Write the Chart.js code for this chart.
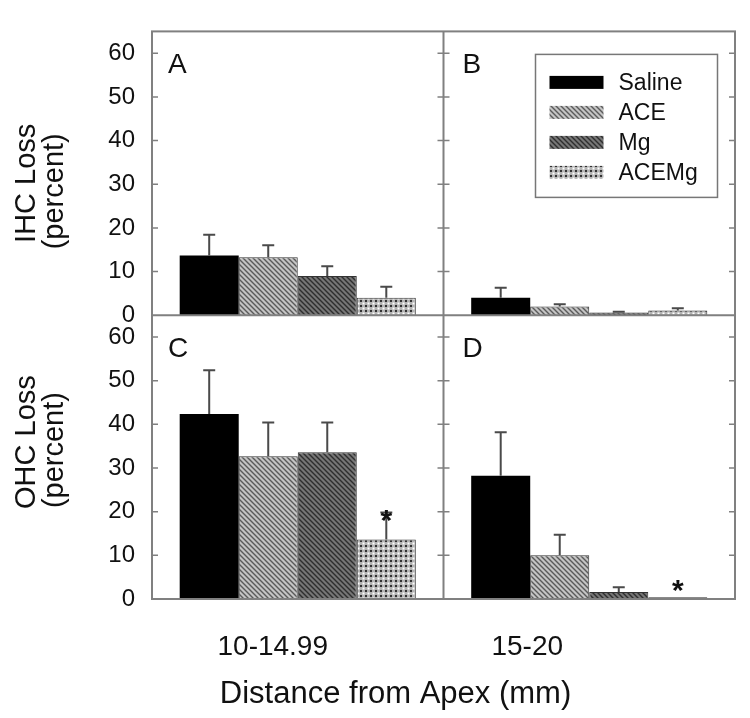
<!DOCTYPE html>
<html>
<head>
<meta charset="utf-8">
<script src="https://cdn.jsdelivr.net/npm/chart.js@4.4.1/dist/chart.umd.min.js"></script>
<style>
  html, body { margin: 0; padding: 0; background: #fff; }
</style>
</head>
<body>
<canvas id="myChart" width="750" height="718"></canvas>
<script>
// distance bins (panels left / right)
const distanceLabels = ['10-14.99', '15-20'];
const treatments = ['Saline', 'ACE', 'Mg', 'ACEMg'];
const yTickLabels = [0, 10, 20, 30, 40, 50, 60];

// IHC loss, percent (panels A and B)
const ihcSaline = [13.7, 4.0];
const ihcAce = [13.3, 2.0];
const ihcMg = [9.0, 0.6];
const ihcAceMg = [4.0, 1.1];
// IHC upward error bars
const ihcSalineErr = [4.7, 2.3];
const ihcAceErr = [2.7, 0.5];
const ihcMgErr = [2.2, 0.2];
const ihcAceMgErr = [2.5, 0.5];

// OHC loss, percent (panels C and D)
const ohcSaline = [42.4, 28.2];
const ohcAce = [32.7, 10.0];
const ohcMg = [33.6, 1.6];
const ohcAceMg = [13.6, 0.4];
// OHC upward error bars
const ohcSalineErr = [10.0, 10.0];
const ohcAceErr = [7.7, 4.7];
const ohcMgErr = [6.8, 1.1];
const ohcAceMgErr = [6.2, 0];
// significance stars
const ohcAceMgStar = [true, true];

const FONT = '"Liberation Sans", Arial, sans-serif';
const INK = '#111';
const FRAME = '#808080';

// fill patterns like the printed figure
function stripes(bg, fg, size) {
  const c = document.createElement('canvas');
  c.width = c.height = size;
  const g = c.getContext('2d');
  g.fillStyle = bg;
  g.fillRect(0, 0, size, size);
  g.strokeStyle = fg;
  g.lineWidth = 1.4;
  g.beginPath();
  g.moveTo(-1, -1); g.lineTo(size + 1, size + 1);
  g.moveTo(-1, size - 1); g.lineTo(1, size + 1);
  g.moveTo(size - 1, -1); g.lineTo(size + 1, 1);
  g.stroke();
  return g.createPattern(c, 'repeat');
}
function dots(bg, dark, light) {
  const c = document.createElement('canvas');
  c.width = c.height = 5;
  const g = c.getContext('2d');
  g.fillStyle = bg;
  g.fillRect(0, 0, 5, 5);
  g.fillStyle = dark;
  g.fillRect(0, 0, 2, 2);
  g.fillStyle = light;
  g.fillRect(2.5, 2.5, 2, 2);
  return g.createPattern(c, 'repeat');
}

const fills = {
  Saline: '#000',
  ACE: stripes('#c4c4c4', '#5a5a5a', 5),
  Mg: stripes('#767676', '#2e2e2e', 5),
  ACEMg: dots('#b4b4b4', '#333', '#fff')
};

const ihcValues = [ihcSaline, ihcAce, ihcMg, ihcAceMg];
const ihcErrors = [ihcSalineErr, ihcAceErr, ihcMgErr, ihcAceMgErr];
const ohcValues = [ohcSaline, ohcAce, ohcMg, ohcAceMg];
const ohcErrors = [ohcSalineErr, ohcAceErr, ohcMgErr, ohcAceMgErr];

const datasets = [];
treatments.forEach((name, i) => {
  const common = {
    stack: name,
    backgroundColor: fills[name],
    borderColor: '#333',
    borderWidth: name === 'Saline' ? 0 : 1,
    barPercentage: 1,
    categoryPercentage: 0.81
  };
  datasets.push(Object.assign({
    label: name, data: ihcValues[i], errorBars: ihcErrors[i], yAxisID: 'yTop'
  }, common));
  datasets.push(Object.assign({
    label: name, data: ohcValues[i], errorBars: ohcErrors[i], yAxisID: 'yBottom',
    stars: name === 'ACEMg' ? ohcAceMgStar : null
  }, common));
});

function yScale(extra) {
  return Object.assign({
    type: 'linear',
    position: 'left',
    stack: 'rows',
    stackWeight: 1,
    min: 0,
    max: 65,
    afterBuildTicks: (s) => { s.ticks = yTickLabels.map(v => ({value: v})); },
    afterFit: (s) => { s.width = 152; },
    ticks: {
      autoSkip: false,
      padding: 17,
      color: INK,
      font: {family: FONT, size: 24}
    },
    grid: {display: false, drawTicks: false},
    border: {display: false}
  }, extra);
}

// error bars and stars
const errorBarPlugin = {
  id: 'errorBars',
  afterDatasetsDraw(chart) {
    const ctx = chart.ctx;
    ctx.save();
    chart.data.datasets.forEach((ds, di) => {
      const meta = chart.getDatasetMeta(di);
      const ys = chart.scales[ds.yAxisID];
      meta.data.forEach((bar, i) => {
        const v = ds.data[i];
        const e = ds.errorBars[i];
        const top = ys.getPixelForValue(v + e);
        if (e > 0) {
          ctx.strokeStyle = '#4a4a4a';
          ctx.lineWidth = 2;
          ctx.beginPath();
          ctx.moveTo(bar.x, ys.getPixelForValue(v));
          ctx.lineTo(bar.x, top);
          ctx.moveTo(bar.x - 6, top);
          ctx.lineTo(bar.x + 6, top);
          ctx.stroke();
        }
        if (ds.stars && ds.stars[i]) {
          ctx.fillStyle = INK;
          ctx.font = 'bold 30px ' + FONT;
          ctx.textAlign = 'center';
          ctx.textBaseline = 'alphabetic';
          ctx.fillText('*', bar.x, top + (e > 0 ? 17 : 3));
        }
      });
    });
    ctx.restore();
  }
};

// frame, panel dividers and inward tick marks
const framePlugin = {
  id: 'frame',
  afterDraw(chart) {
    const {ctx, chartArea: a} = chart;
    const mid = (chart.scales.x.getPixelForValue(0) + chart.scales.x.getPixelForValue(1)) / 2;
    const split = chart.scales.yTop.bottom;
    ctx.save();
    ctx.strokeStyle = FRAME;
    ctx.lineWidth = 2;
    ctx.strokeRect(a.left, a.top, a.right - a.left, a.bottom - a.top);
    ctx.beginPath();
    ctx.moveTo(mid, a.top); ctx.lineTo(mid, a.bottom);
    ctx.moveTo(a.left, split); ctx.lineTo(a.right, split);
    ctx.stroke();
    ctx.lineWidth = 1.5;
    ['yTop', 'yBottom'].forEach(id => {
      const s = chart.scales[id];
      s.ticks.forEach(t => {
        if (t.value === 0) return;
        const y = s.getPixelForValue(t.value);
        ctx.beginPath();
        ctx.moveTo(a.left, y); ctx.lineTo(a.left + 6, y);
        ctx.moveTo(mid - 6, y); ctx.lineTo(mid + 6, y);
        ctx.moveTo(a.right - 6, y); ctx.lineTo(a.right, y);
        ctx.stroke();
      });
    });
    ctx.restore();
  }
};

// panel letters, legend, axis texts
const panelLetters = [['A', 'B'], ['C', 'D']];
const xLabelShift = [-25, -62];
const textPlugin = {
  id: 'texts',
  afterDraw(chart) {
    const {ctx, chartArea: a} = chart;
    const xs = chart.scales.x;
    const mid = (xs.getPixelForValue(0) + xs.getPixelForValue(1)) / 2;
    const rows = [chart.scales.yTop, chart.scales.yBottom];
    ctx.save();
    ctx.fillStyle = INK;
    ctx.textBaseline = 'alphabetic';
    ctx.textAlign = 'left';
    ctx.font = '28px ' + FONT;
    rows.forEach((s, r) => {
      ctx.fillText(panelLetters[r][0], a.left + 16, s.top + 42);
      ctx.fillText(panelLetters[r][1], mid + 19, s.top + 42);
    });

    // legend inside panel B
    const lx = mid + 92, ly = a.top + 23;
    ctx.strokeStyle = '#777';
    ctx.lineWidth = 1.5;
    ctx.strokeRect(lx, ly, 182, 143);
    ctx.font = '23px ' + FONT;
    ctx.textBaseline = 'middle';
    treatments.forEach((name, i) => {
      const cy = ly + 28 + i * 30;
      ctx.fillStyle = fills[name];
      ctx.fillRect(lx + 14, cy - 6.5, 54, 13);
      ctx.fillStyle = INK;
      ctx.fillText(name, lx + 83, cy + 1);
    });

    // x category labels and title
    ctx.textAlign = 'center';
    ctx.textBaseline = 'alphabetic';
    ctx.font = '28px ' + FONT;
    distanceLabels.forEach((lab, i) => {
      ctx.fillText(lab, xs.getPixelForValue(i) + xLabelShift[i], a.bottom + 56);
    });
    ctx.font = '31px ' + FONT;
    ctx.fillText('Distance from Apex (mm)', (a.left + a.right) / 2 - 48, a.bottom + 104);

    // y titles
    const yTitles = [['IHC Loss', '(percent)'], ['OHC Loss', '(percent)']];
    rows.forEach((s, r) => {
      const cy = (s.top + s.bottom) / 2 + (r === 0 ? 10 : -15);
      ctx.save();
      ctx.translate(0, cy);
      ctx.rotate(-Math.PI / 2);
      ctx.font = '29px ' + FONT;
      ctx.textBaseline = 'middle';
      ctx.fillText(yTitles[r][0], 0, 27);
      ctx.fillText(yTitles[r][1], -8, 55);
      ctx.restore();
    });
    ctx.restore();
  }
};

const config = {
  type: 'bar',
  data: {labels: distanceLabels, datasets: datasets},
  options: {
    responsive: false,
    animation: false,
    layout: {padding: {top: 16, right: 15, bottom: 119, left: 0}},
    plugins: {legend: {display: false}, tooltip: {enabled: false}},
    scales: {
      x: {type: 'category', display: false, offset: true, grid: {display: false}},
      // listed bottom first: the layout stacks them upward
      yBottom: yScale({}),
      yTop: yScale({})
    }
  },
  plugins: [errorBarPlugin, framePlugin, textPlugin]
};

const myChart = new Chart(document.getElementById('myChart'), config);
</script>
</body>
</html>
